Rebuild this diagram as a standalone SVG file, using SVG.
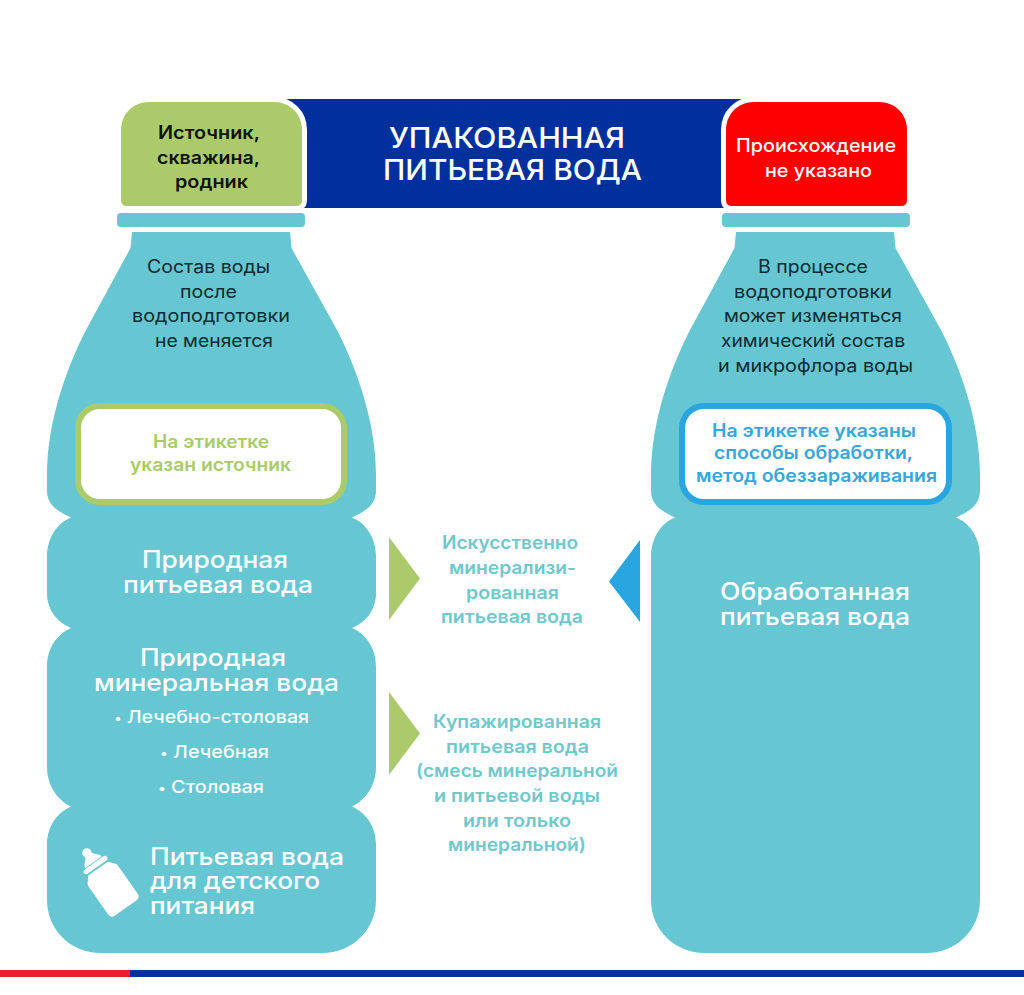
<svg xmlns="http://www.w3.org/2000/svg" width="1024" height="995" viewBox="0 0 1024 995">
<style>
text{font-family:"Inter","Noto Sans","Liberation Sans",sans-serif}
.teal{fill:#66c6d1}
.dark{fill:#0f2a30;font-size:18px}
.head{fill:#fff;font-size:24px;font-weight:500}
.sub{fill:#fff;font-size:17.5px;font-weight:500}
.mid{fill:#6fc8cb;font-size:18px;font-weight:600}
.cap{stroke:#fff;stroke-width:10;paint-order:stroke}
</style>
<rect width="1024" height="995" fill="#fff"/>
<g id="strip">
<rect x="0" y="970" width="130" height="7" fill="#e62129"/>
<rect x="130" y="970" width="894" height="7" fill="#00309c"/>
</g>
<g id="title">
<rect x="285" y="99" width="460" height="109" fill="#00309c"/>
<text x="389" y="148" textLength="236" lengthAdjust="spacingAndGlyphs" fill="#fff" font-size="29" font-weight="500">УПАКОВАННАЯ</text>
<text x="383" y="180" textLength="259" lengthAdjust="spacingAndGlyphs" fill="#fff" font-size="29" font-weight="500">ПИТЬЕВАЯ ВОДА</text>
</g>
<g id="left-bottle">
<path class="cap" fill="#abcb6a" d="M149 102H274C290 102 302 114 302 130V200Q302 206 296 206H127Q121 206 121 200V130C121 114 133 102 149 102Z"/>
<rect class="teal" x="117" y="213" width="188" height="14" rx="4"/>
<path class="teal" d="M132 232H290L291.500 248L337 330C355 365 376 420 376 475V490C376 505 366 511 352 517.500C366 523 376 538 376 557V593C376 610 366 622 352 628C366 634 376 648 376 667V767C376 785 366 800 352 806.500C366 813 376 826 376 845V900C376 930 352 953 322 953H101C71 953 47 930 47 900V845C47 826 57 813 71 806.500C57 800 47 785 47 767V667C47 648 57 634 71 628C57 622 47 610 47 593V557C47 538 57 523 71 517.500C57 511 47 505 47 490V475C47 420 68 365 86 330L130.500 248Z"/>
<rect x="78" y="406" width="266" height="96" rx="22" fill="#fff" stroke="#abcb6a" stroke-width="6"/>
<g fill="#111" font-size="18" font-weight="600">
<text x="158" y="139" textLength="102" lengthAdjust="spacingAndGlyphs">Источник,</text>
<text x="157" y="164" textLength="103" lengthAdjust="spacingAndGlyphs">скважина,</text>
<text x="175" y="188" textLength="73" lengthAdjust="spacingAndGlyphs">родник</text>
</g>
<text class="dark" x="147" y="273" textLength="123" lengthAdjust="spacingAndGlyphs">Состав воды</text>
<text class="dark" x="180" y="298" textLength="57" lengthAdjust="spacingAndGlyphs">после</text>
<text class="dark" x="132" y="322" textLength="158" lengthAdjust="spacingAndGlyphs">водоподготовки</text>
<text class="dark" x="155" y="347" textLength="118" lengthAdjust="spacingAndGlyphs">не меняется</text>
<g fill="#a9cb6a" font-size="18" font-weight="600">
<text x="153" y="448" textLength="116" lengthAdjust="spacingAndGlyphs">На этикетке</text>
<text x="130" y="471" textLength="161" lengthAdjust="spacingAndGlyphs">указан источник</text>
</g>
<text class="head" x="142" y="568" textLength="146" lengthAdjust="spacingAndGlyphs">Природная</text>
<text class="head" x="123" y="593" textLength="190" lengthAdjust="spacingAndGlyphs">питьевая вода</text>
<text class="head" x="140" y="666" textLength="146" lengthAdjust="spacingAndGlyphs">Природная</text>
<text class="head" x="94" y="691" textLength="245" lengthAdjust="spacingAndGlyphs">минеральная вода</text>
<text class="sub" x="114" y="723" textLength="195" lengthAdjust="spacingAndGlyphs"><tspan font-size="13">•</tspan> Лечебно-столовая</text>
<text class="sub" x="160" y="758" textLength="109" lengthAdjust="spacingAndGlyphs"><tspan font-size="13">•</tspan> Лечебная</text>
<text class="sub" x="158" y="793" textLength="106" lengthAdjust="spacingAndGlyphs"><tspan font-size="13">•</tspan> Столовая</text>
<text class="head" x="150" y="865" textLength="194" lengthAdjust="spacingAndGlyphs">Питьевая вода</text>
<text class="head" x="150" y="889" textLength="170" lengthAdjust="spacingAndGlyphs">для детского</text>
<text class="head" x="150" y="914" textLength="105" lengthAdjust="spacingAndGlyphs">питания</text>
<g transform="translate(113 890) rotate(-35)" fill="#fff">
<path d="M-12 -26H12L17 -20Q18 -19 18 -17V17Q18 22 13 22H-13Q-18 22 -18 17V-17Q-18 -19 -17 -20Z"/>
<rect x="-14" y="-33" width="28" height="5" rx="2.500"/>
<path d="M-10 -34C-10 -38 -5 -39 -4 -43C-6 -47 -3 -50 0 -50C3 -50 6 -47 4 -43C5 -39 10 -38 10 -34Z"/>
</g>
</g>
<g id="right-bottle">
<path class="cap" fill="#ff0000" d="M754 102H879C895 102 907 114 907 130V200Q907 206 901 206H732Q726 206 726 200V130C726 114 738 102 754 102Z"/>
<rect class="teal" x="722" y="213" width="188" height="14" rx="4"/>
<path class="teal" d="M736 232H894L895.500 248L941 330C959 365 980 420 980 475V490C980 505 970 511 956 517.500C970 523 980 538 980 557V900C980 930 956 953 926 953H705C675 953 651 930 651 900V557C651 538 661 523 675 517.500C661 511 651 505 651 490V475C651 420 672 365 690 330L734.500 248Z"/>
<rect x="682" y="406" width="267" height="96" rx="22" fill="#fff" stroke="#29a5e0" stroke-width="6"/>
<g fill="#fff" font-size="18" font-weight="500">
<text x="736" y="152" textLength="160" lengthAdjust="spacingAndGlyphs">Происхождение</text>
<text x="765" y="177" textLength="107" lengthAdjust="spacingAndGlyphs">не указано</text>
</g>
<text class="dark" x="758" y="273" textLength="110" lengthAdjust="spacingAndGlyphs">В процессе</text>
<text class="dark" x="734" y="298" textLength="158" lengthAdjust="spacingAndGlyphs">водоподготовки</text>
<text class="dark" x="724" y="322" textLength="178" lengthAdjust="spacingAndGlyphs">может изменяться</text>
<text class="dark" x="721" y="347" textLength="184" lengthAdjust="spacingAndGlyphs">химический состав</text>
<text class="dark" x="718" y="372" textLength="195" lengthAdjust="spacingAndGlyphs">и микрофлора воды</text>
<g fill="#35a7dc" font-size="18" font-weight="600">
<text x="712" y="437" textLength="204" lengthAdjust="spacingAndGlyphs">На этикетке указаны</text>
<text x="714" y="459" textLength="199" lengthAdjust="spacingAndGlyphs">способы обработки,</text>
<text x="696" y="482" textLength="241" lengthAdjust="spacingAndGlyphs">метод обеззараживания</text>
</g>
<text class="head" x="720" y="600" textLength="190" lengthAdjust="spacingAndGlyphs">Обработанная</text>
<text class="head" x="720" y="625" textLength="190" lengthAdjust="spacingAndGlyphs">питьевая вода</text>
</g>
<g id="middle-top">
<text class="mid" x="442" y="549" textLength="136" lengthAdjust="spacingAndGlyphs">Искусственно</text>
<text class="mid" x="449" y="574" textLength="127" lengthAdjust="spacingAndGlyphs">минерализи-</text>
<text class="mid" x="466" y="599" textLength="93" lengthAdjust="spacingAndGlyphs">рованная</text>
<text class="mid" x="441" y="623" textLength="142" lengthAdjust="spacingAndGlyphs">питьевая вода</text>
</g>
<g id="middle-bottom">
<text class="mid" x="433" y="728" textLength="168" lengthAdjust="spacingAndGlyphs">Купажированная</text>
<text class="mid" x="446" y="753" textLength="143" lengthAdjust="spacingAndGlyphs">питьевая вода</text>
<text class="mid" x="416" y="777" textLength="202" lengthAdjust="spacingAndGlyphs">(смесь минеральной</text>
<text class="mid" x="434" y="802" textLength="166" lengthAdjust="spacingAndGlyphs">и питьевой воды</text>
<text class="mid" x="463" y="827" textLength="108" lengthAdjust="spacingAndGlyphs">или только</text>
<text class="mid" x="448" y="851" textLength="138" lengthAdjust="spacingAndGlyphs">минеральной)</text>
</g>
<g id="connectors">
<polygon points="389,537 420,578.500 389,620" fill="#abcb6a"/>
<polygon points="389,692 420,733.500 389,775" fill="#abcb6a"/>
<polygon points="640,540 609,581.500 640,622" fill="#29a5e0"/>
</g>
</svg>
